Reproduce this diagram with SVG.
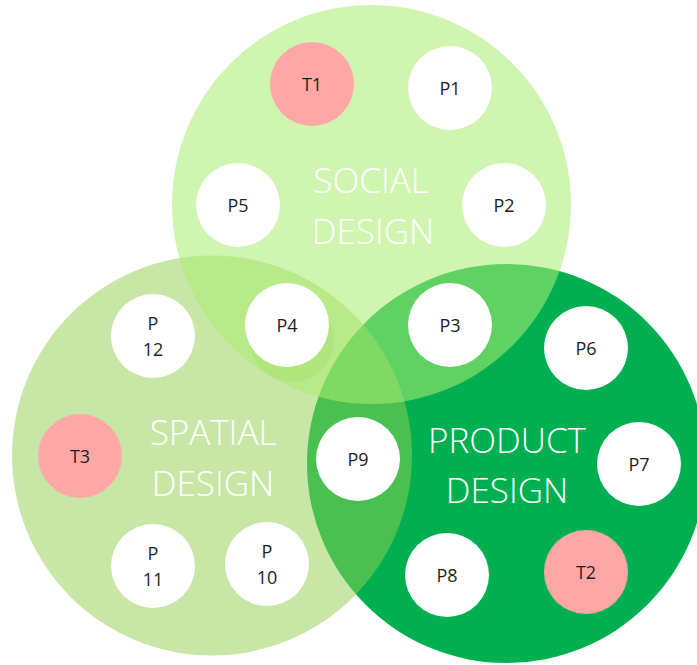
<svg xmlns="http://www.w3.org/2000/svg" width="697" height="665" viewBox="0 0 697 665">
  <style>
    .node { fill: #ffffff; }
    .topic { fill: #ffa7a7; }
    .lbl { font-family: "Open Sans", "Liberation Sans", sans-serif; font-size: 18px; fill: #1e1e1e; text-anchor: middle; }
    .big { font-family: "Open Sans", "Liberation Sans", sans-serif; font-weight: 300; font-size: 35px; fill: #ffffff; text-anchor: middle; }
  </style>
  <rect width="697" height="665" fill="#ffffff"/>
  <g id="sets">
    <circle id="product-design" cx="506.5" cy="463.5" r="199.5" fill="#00b050"/>
    <circle id="spatial-design" cx="212" cy="455.5" r="200" fill="#92d050" fill-opacity="0.5"/>
    <circle id="social-design" cx="371.5" cy="204.5" r="199.5" fill="#abed72" fill-opacity="0.56"/>
  </g>
  <g id="set-labels">
    <text class="big" x="371" y="193">SOCIAL</text>
    <text class="big" x="373" y="244">DESIGN</text>
    <text class="big" x="213" y="445">SPATIAL</text>
    <text class="big" x="213" y="496">DESIGN</text>
    <text class="big" x="507" y="453">PRODUCT</text>
    <text class="big" x="507" y="503">DESIGN</text>
  </g>
  <g id="connectors"></g>
  <g id="T1"><circle class="topic" cx="312" cy="84" r="42"/><text class="lbl" x="312" y="90.5">T1</text></g>
  <g id="P1"><circle class="node" cx="450" cy="88" r="42"/><text class="lbl" x="450" y="94.5">P1</text></g>
  <g id="P5"><circle class="node" cx="238" cy="205" r="42"/><text class="lbl" x="238" y="211.5">P5</text></g>
  <g id="P2"><circle class="node" cx="504" cy="205" r="42"/><text class="lbl" x="504" y="211.5">P2</text></g>
  <g id="P4">
    <circle cx="292" cy="340" r="42" fill="#92d050" fill-opacity="0.18"/>
    <circle class="node" cx="287" cy="325" r="42"/><text class="lbl" x="287" y="331.5">P4</text>
  </g>
  <g id="P12"><circle class="node" cx="153" cy="336" r="42"/><text class="lbl" x="153" y="330">P</text><text class="lbl" x="153" y="356">12</text></g>
  <g id="P3"><circle class="node" cx="450" cy="325" r="42"/><text class="lbl" x="450" y="331.5">P3</text></g>
  <g id="P6"><circle class="node" cx="586" cy="348" r="42"/><text class="lbl" x="586" y="354.5">P6</text></g>
  <g id="T3"><circle class="topic" cx="80" cy="456" r="42"/><text class="lbl" x="80" y="462.5">T3</text></g>
  <g id="P9"><circle class="node" cx="358" cy="459" r="42"/><text class="lbl" x="358" y="465.5">P9</text></g>
  <g id="P7"><circle class="node" cx="639" cy="464" r="42"/><text class="lbl" x="639" y="470.5">P7</text></g>
  <g id="P11"><circle class="node" cx="153" cy="566" r="42"/><text class="lbl" x="153" y="560">P</text><text class="lbl" x="153" y="586">11</text></g>
  <g id="P10"><circle class="node" cx="267" cy="564" r="42"/><text class="lbl" x="267" y="558">P</text><text class="lbl" x="267" y="584">10</text></g>
  <g id="P8"><circle class="node" cx="447" cy="575" r="42"/><text class="lbl" x="447" y="581.5">P8</text></g>
  <g id="T2"><circle class="topic" cx="586" cy="572" r="42"/><text class="lbl" x="586" y="578.5">T2</text></g>
</svg>
